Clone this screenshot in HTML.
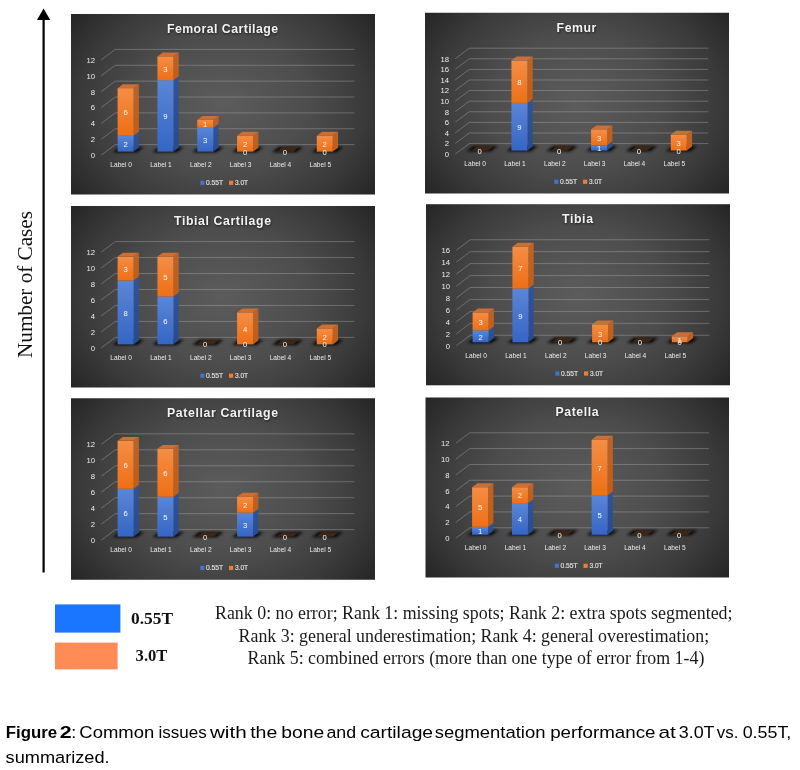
<!DOCTYPE html>
<html lang="en"><head><meta charset="utf-8"><title>Figure 2</title>
<style>
html,body{margin:0;padding:0;background:#fff;}
body{width:800px;height:770px;overflow:hidden;font-family:"Liberation Sans", sans-serif;}
svg{display:block;position:absolute;left:0;top:0;}
text{font-family:"Liberation Sans", sans-serif;}
.ax{font-size:7.7px;fill:#ececec;}
.dl{font-size:7.7px;fill:#fafafa;text-anchor:middle;}
.ttl{font-size:12.3px;font-weight:bold;fill:#f2f2f2;text-anchor:middle;}
.lg{font-size:7px;fill:#e0e0e0;stroke:#e0e0e0;stroke-width:0.15px;}
.serif{font-family:"Liberation Serif", serif;}
</style></head><body>
<svg width="800" height="770" viewBox="0 0 800 770" style="opacity:0.999">
<defs>
<linearGradient id="gT" x1="0" y1="0" x2="0" y2="1"><stop offset="0" stop-color="#262626"/><stop offset="1" stop-color="#595959"/></linearGradient>
<linearGradient id="gB" x1="0" y1="1" x2="0" y2="0"><stop offset="0" stop-color="#262626"/><stop offset="1" stop-color="#595959"/></linearGradient>
<linearGradient id="gL" x1="0" y1="0" x2="1" y2="0"><stop offset="0" stop-color="#262626"/><stop offset="1" stop-color="#595959"/></linearGradient>
<linearGradient id="gR" x1="1" y1="0" x2="0" y2="0"><stop offset="0" stop-color="#262626"/><stop offset="1" stop-color="#595959"/></linearGradient>
<radialGradient id="bg" cx="0.5" cy="0.5" r="1" gradientTransform="translate(0.5,0.5) scale(0.625,0.829) translate(-0.5,-0.5)"><stop offset="0" stop-color="#5c5c5c"/><stop offset="0.45" stop-color="#4d4d4d"/><stop offset="0.75" stop-color="#3a3a3a"/><stop offset="1" stop-color="#252525"/></radialGradient>
<linearGradient id="bf" x1="0" y1="0" x2="0" y2="1"><stop offset="0" stop-color="#5b86d6"/><stop offset="1" stop-color="#3566c6"/></linearGradient>
<linearGradient id="bs" x1="0" y1="0" x2="0" y2="1"><stop offset="0" stop-color="#30549a"/><stop offset="1" stop-color="#284b8e"/></linearGradient>
<linearGradient id="of" x1="0" y1="0" x2="0" y2="1"><stop offset="0" stop-color="#f58d45"/><stop offset="1" stop-color="#ee6f16"/></linearGradient>
<linearGradient id="os" x1="0" y1="0" x2="0" y2="1"><stop offset="0" stop-color="#b9632b"/><stop offset="1" stop-color="#c25d15"/></linearGradient>
<filter id="sh" x="-50%" y="-200%" width="200%" height="500%"><feGaussianBlur stdDeviation="1.5"/></filter>
<filter id="ts" x="-10%" y="-30%" width="120%" height="180%"><feGaussianBlur stdDeviation="0.9"/></filter>
</defs>
<rect x="0" y="0" width="800" height="770" fill="#ffffff"/>
<rect x="42.5" y="18" width="2.2" height="554.5" fill="#000"/>
<polygon points="43.6,8.6 50.2,19.9 37,19.9" fill="#000"/>
<text class="serif" transform="translate(32,284.5) rotate(-90)" text-anchor="middle" font-size="21.5" fill="#111" textLength="147" lengthAdjust="spacingAndGlyphs">Number of Cases</text>
<g>
<rect x="71" y="14" width="304" height="180.5" fill="url(#bg)"/>
<g fill="none" stroke="#b4b4b4" stroke-opacity="0.52" stroke-width="0.75">
<polyline points="101.25,155.11 115.3,144.64 354.4,144.64"/>
<polyline points="101.25,139.24 115.3,128.77 354.4,128.77"/>
<polyline points="101.25,123.36 115.3,112.89 354.4,112.89"/>
<polyline points="101.25,107.49 115.3,97.02 354.4,97.02"/>
<polyline points="101.25,91.62 115.3,81.15 354.4,81.15"/>
<polyline points="101.25,75.75 115.3,65.27 354.4,65.27"/>
<polyline points="101.25,59.87 115.3,49.4 354.4,49.4"/>
</g>
<text class="ax" x="95" y="158.01" text-anchor="end">0</text>
<text class="ax" x="95" y="142.14" text-anchor="end">2</text>
<text class="ax" x="95" y="126.26" text-anchor="end">4</text>
<text class="ax" x="95" y="110.39" text-anchor="end">6</text>
<text class="ax" x="95" y="94.52" text-anchor="end">8</text>
<text class="ax" x="95" y="78.65" text-anchor="end">10</text>
<text class="ax" x="95" y="62.77" text-anchor="end">12</text>
<g filter="url(#sh)" fill="#000" fill-opacity="0.95">
<polygon points="112.4,152.22 136.8,152.22 144.1,147.07 119.7,147.07"/>
<polygon points="152.23,152.22 176.63,152.22 183.93,147.07 159.53,147.07"/>
<polygon points="192.06,152.22 216.46,152.22 223.76,147.07 199.36,147.07"/>
<polygon points="231.89,152.22 256.29,152.22 263.59,147.07 239.19,147.07"/>
<polygon points="271.72,152.22 296.12,152.22 303.42,147.07 279.02,147.07"/>
<polygon points="311.55,152.22 335.95,152.22 343.25,147.07 318.85,147.07"/>
</g>
<polygon points="133.6,151.62 138.9,147.67 138.9,131.8 133.6,135.75" fill="url(#bs)"/>
<rect x="117.6" y="135.75" width="16" height="15.87" fill="url(#bf)"/>
<polygon points="133.6,135.75 138.9,131.8 138.9,84.18 133.6,88.13" fill="url(#os)"/>
<rect x="117.6" y="88.13" width="16" height="47.62" fill="url(#of)"/>
<polygon points="117.6,88.13 133.6,88.13 138.9,84.18 122.9,84.18" fill="#cb6f35"/>
<polygon points="173.43,151.62 178.73,147.67 178.73,76.24 173.43,80.19" fill="url(#bs)"/>
<rect x="157.43" y="80.19" width="16" height="71.43" fill="url(#bf)"/>
<polygon points="173.43,80.19 178.73,76.24 178.73,52.43 173.43,56.38" fill="url(#os)"/>
<rect x="157.43" y="56.38" width="16" height="23.81" fill="url(#of)"/>
<polygon points="157.43,56.38 173.43,56.38 178.73,52.43 162.73,52.43" fill="#cb6f35"/>
<polygon points="213.26,151.62 218.56,147.67 218.56,123.86 213.26,127.81" fill="url(#bs)"/>
<rect x="197.26" y="127.81" width="16" height="23.81" fill="url(#bf)"/>
<polygon points="213.26,127.81 218.56,123.86 218.56,115.92 213.26,119.87" fill="url(#os)"/>
<rect x="197.26" y="119.87" width="16" height="7.94" fill="url(#of)"/>
<polygon points="197.26,119.87 213.26,119.87 218.56,115.92 202.56,115.92" fill="#cb6f35"/>
<polygon points="253.09,151.62 258.39,147.67 258.39,131.8 253.09,135.75" fill="url(#os)"/>
<rect x="237.09" y="135.75" width="16" height="15.87" fill="url(#of)"/>
<polygon points="237.09,135.75 253.09,135.75 258.39,131.8 242.39,131.8" fill="#cb6f35"/>
<polygon points="276.62,151.82 293.22,151.82 298.82,147.12 282.22,147.12" fill="#3d2616"/>
<polygon points="332.75,151.62 338.05,147.67 338.05,131.8 332.75,135.75" fill="url(#os)"/>
<rect x="316.75" y="135.75" width="16" height="15.87" fill="url(#of)"/>
<polygon points="316.75,135.75 332.75,135.75 338.05,131.8 322.05,131.8" fill="#cb6f35"/>
<text class="dl" x="125.6" y="146.98">2</text>
<text class="dl" x="125.6" y="115.24">6</text>
<text class="dl" x="165.43" y="119.21">9</text>
<text class="dl" x="165.43" y="71.59">3</text>
<text class="dl" x="205.26" y="143.01">3</text>
<text class="dl" x="205.26" y="127.14">1</text>
<text class="dl" x="245.09" y="154.62">0</text>
<text class="dl" x="245.09" y="146.98">2</text>
<text class="dl" x="284.92" y="154.62">0</text>
<text class="dl" x="324.75" y="154.62">0</text>
<text class="dl" x="324.75" y="146.98">2</text>
<text class="ax" x="121.16" y="166.88" text-anchor="middle" textLength="21.6" lengthAdjust="spacingAndGlyphs">Label 0</text>
<text class="ax" x="161" y="166.88" text-anchor="middle" textLength="21.6" lengthAdjust="spacingAndGlyphs">Label 1</text>
<text class="ax" x="200.82" y="166.88" text-anchor="middle" textLength="21.6" lengthAdjust="spacingAndGlyphs">Label 2</text>
<text class="ax" x="240.66" y="166.88" text-anchor="middle" textLength="21.6" lengthAdjust="spacingAndGlyphs">Label 3</text>
<text class="ax" x="280.49" y="166.88" text-anchor="middle" textLength="21.6" lengthAdjust="spacingAndGlyphs">Label 4</text>
<text class="ax" x="320.31" y="166.88" text-anchor="middle" textLength="21.6" lengthAdjust="spacingAndGlyphs">Label 5</text>
<rect x="200.25" y="180.68" width="4.2" height="4.2" fill="#4472c4"/>
<text class="lg" x="205.9" y="184.78" textLength="17.2" lengthAdjust="spacingAndGlyphs">0.55T</text>
<rect x="229" y="180.68" width="4.2" height="4.2" fill="#ed7d31"/>
<text class="lg" x="235" y="184.78" textLength="13.1" lengthAdjust="spacingAndGlyphs">3.0T</text>
<text class="ttl" x="223.1" y="33.85" textLength="111" lengthAdjust="spacing" fill="#000" style="fill:#000" opacity="0.6" filter="url(#ts)">Femoral Cartilage</text>
<text class="ttl" x="222.5" y="32.95" textLength="111" lengthAdjust="spacing">Femoral Cartilage</text>
</g>
<g>
<rect x="425" y="12.75" width="304" height="180.75" fill="url(#bg)"/>
<g fill="none" stroke="#b4b4b4" stroke-opacity="0.52" stroke-width="0.75">
<polyline points="455.25,154.05 469.3,143.57 708.4,143.57"/>
<polyline points="455.25,143.46 469.3,132.97 708.4,132.97"/>
<polyline points="455.25,132.86 469.3,122.38 708.4,122.38"/>
<polyline points="455.25,122.27 469.3,111.78 708.4,111.78"/>
<polyline points="455.25,111.67 469.3,101.18 708.4,101.18"/>
<polyline points="455.25,101.07 469.3,90.59 708.4,90.59"/>
<polyline points="455.25,90.48 469.3,79.99 708.4,79.99"/>
<polyline points="455.25,79.88 469.3,69.39 708.4,69.39"/>
<polyline points="455.25,69.28 469.3,58.8 708.4,58.8"/>
<polyline points="455.25,58.69 469.3,48.2 708.4,48.2"/>
</g>
<text class="ax" x="449" y="156.95" text-anchor="end">0</text>
<text class="ax" x="449" y="146.36" text-anchor="end">2</text>
<text class="ax" x="449" y="135.76" text-anchor="end">4</text>
<text class="ax" x="449" y="125.17" text-anchor="end">6</text>
<text class="ax" x="449" y="114.57" text-anchor="end">8</text>
<text class="ax" x="449" y="103.97" text-anchor="end">10</text>
<text class="ax" x="449" y="93.38" text-anchor="end">12</text>
<text class="ax" x="449" y="82.78" text-anchor="end">14</text>
<text class="ax" x="449" y="72.18" text-anchor="end">16</text>
<text class="ax" x="449" y="61.59" text-anchor="end">18</text>
<g filter="url(#sh)" fill="#000" fill-opacity="0.95">
<polygon points="466.4,151.16 490.8,151.16 498.1,146.01 473.7,146.01"/>
<polygon points="506.23,151.16 530.63,151.16 537.93,146.01 513.53,146.01"/>
<polygon points="546.06,151.16 570.46,151.16 577.76,146.01 553.36,146.01"/>
<polygon points="585.89,151.16 610.29,151.16 617.59,146.01 593.19,146.01"/>
<polygon points="625.72,151.16 650.12,151.16 657.42,146.01 633.02,146.01"/>
<polygon points="665.55,151.16 689.95,151.16 697.25,146.01 672.85,146.01"/>
</g>
<polygon points="471.3,150.76 487.9,150.76 493.5,146.06 476.9,146.06" fill="#3d2616"/>
<polygon points="527.43,150.56 532.73,146.61 532.73,98.93 527.43,102.88" fill="url(#bs)"/>
<rect x="511.43" y="102.88" width="16" height="47.68" fill="url(#bf)"/>
<polygon points="527.43,102.88 532.73,98.93 532.73,56.54 527.43,60.49" fill="url(#os)"/>
<rect x="511.43" y="60.49" width="16" height="42.39" fill="url(#of)"/>
<polygon points="511.43,60.49 527.43,60.49 532.73,56.54 516.73,56.54" fill="#cb6f35"/>
<polygon points="550.96,150.76 567.56,150.76 573.16,146.06 556.56,146.06" fill="#3d2616"/>
<polygon points="607.09,150.56 612.39,146.61 612.39,141.31 607.09,145.26" fill="url(#bs)"/>
<rect x="591.09" y="145.26" width="16" height="5.3" fill="url(#bf)"/>
<polygon points="607.09,145.26 612.39,141.31 612.39,125.42 607.09,129.37" fill="url(#os)"/>
<rect x="591.09" y="129.37" width="16" height="15.89" fill="url(#of)"/>
<polygon points="591.09,129.37 607.09,129.37 612.39,125.42 596.39,125.42" fill="#cb6f35"/>
<polygon points="630.62,150.76 647.22,150.76 652.82,146.06 636.22,146.06" fill="#3d2616"/>
<polygon points="686.75,150.56 692.05,146.61 692.05,130.71 686.75,134.66" fill="url(#os)"/>
<rect x="670.75" y="134.66" width="16" height="15.89" fill="url(#of)"/>
<polygon points="670.75,134.66 686.75,134.66 692.05,130.71 676.05,130.71" fill="#cb6f35"/>
<text class="dl" x="479.6" y="153.56">0</text>
<text class="dl" x="519.43" y="130.02">9</text>
<text class="dl" x="519.43" y="84.98">8</text>
<text class="dl" x="559.26" y="153.56">0</text>
<text class="dl" x="599.09" y="151.21">1</text>
<text class="dl" x="599.09" y="140.61">3</text>
<text class="dl" x="638.92" y="153.56">0</text>
<text class="dl" x="678.75" y="153.56">0</text>
<text class="dl" x="678.75" y="145.91">3</text>
<text class="ax" x="475.17" y="165.84" text-anchor="middle" textLength="21.6" lengthAdjust="spacingAndGlyphs">Label 0</text>
<text class="ax" x="515" y="165.84" text-anchor="middle" textLength="21.6" lengthAdjust="spacingAndGlyphs">Label 1</text>
<text class="ax" x="554.83" y="165.84" text-anchor="middle" textLength="21.6" lengthAdjust="spacingAndGlyphs">Label 2</text>
<text class="ax" x="594.65" y="165.84" text-anchor="middle" textLength="21.6" lengthAdjust="spacingAndGlyphs">Label 3</text>
<text class="ax" x="634.49" y="165.84" text-anchor="middle" textLength="21.6" lengthAdjust="spacingAndGlyphs">Label 4</text>
<text class="ax" x="674.32" y="165.84" text-anchor="middle" textLength="21.6" lengthAdjust="spacingAndGlyphs">Label 5</text>
<rect x="554.25" y="179.66" width="4.2" height="4.2" fill="#4472c4"/>
<text class="lg" x="559.9" y="183.76" textLength="17.2" lengthAdjust="spacingAndGlyphs">0.55T</text>
<rect x="583" y="179.66" width="4.2" height="4.2" fill="#ed7d31"/>
<text class="lg" x="589" y="183.76" textLength="13.1" lengthAdjust="spacingAndGlyphs">3.0T</text>
<text class="ttl" x="577.1" y="32.62" textLength="39.8" lengthAdjust="spacing" fill="#000" style="fill:#000" opacity="0.6" filter="url(#ts)">Femur</text>
<text class="ttl" x="576.5" y="31.72" textLength="39.8" lengthAdjust="spacing">Femur</text>
</g>
<g>
<rect x="71" y="206" width="304" height="181.5" fill="url(#bg)"/>
<g fill="none" stroke="#b4b4b4" stroke-opacity="0.52" stroke-width="0.75">
<polyline points="101.25,347.89 115.3,337.36 354.4,337.36"/>
<polyline points="101.25,331.93 115.3,321.4 354.4,321.4"/>
<polyline points="101.25,315.97 115.3,305.44 354.4,305.44"/>
<polyline points="101.25,300.01 115.3,289.48 354.4,289.48"/>
<polyline points="101.25,284.05 115.3,273.52 354.4,273.52"/>
<polyline points="101.25,268.09 115.3,257.56 354.4,257.56"/>
<polyline points="101.25,252.13 115.3,241.6 354.4,241.6"/>
</g>
<text class="ax" x="95" y="350.79" text-anchor="end">0</text>
<text class="ax" x="95" y="334.83" text-anchor="end">2</text>
<text class="ax" x="95" y="318.87" text-anchor="end">4</text>
<text class="ax" x="95" y="302.91" text-anchor="end">6</text>
<text class="ax" x="95" y="286.95" text-anchor="end">8</text>
<text class="ax" x="95" y="270.99" text-anchor="end">10</text>
<text class="ax" x="95" y="255.03" text-anchor="end">12</text>
<g filter="url(#sh)" fill="#000" fill-opacity="0.95">
<polygon points="112.4,344.98 136.8,344.98 144.1,339.83 119.7,339.83"/>
<polygon points="152.23,344.98 176.63,344.98 183.93,339.83 159.53,339.83"/>
<polygon points="192.06,344.98 216.46,344.98 223.76,339.83 199.36,339.83"/>
<polygon points="231.89,344.98 256.29,344.98 263.59,339.83 239.19,339.83"/>
<polygon points="271.72,344.98 296.12,344.98 303.42,339.83 279.02,339.83"/>
<polygon points="311.55,344.98 335.95,344.98 343.25,339.83 318.85,339.83"/>
</g>
<polygon points="133.6,344.38 138.9,340.43 138.9,276.59 133.6,280.54" fill="url(#bs)"/>
<rect x="117.6" y="280.54" width="16" height="63.84" fill="url(#bf)"/>
<polygon points="133.6,280.54 138.9,276.59 138.9,252.65 133.6,256.6" fill="url(#os)"/>
<rect x="117.6" y="256.6" width="16" height="23.94" fill="url(#of)"/>
<polygon points="117.6,256.6 133.6,256.6 138.9,252.65 122.9,252.65" fill="#cb6f35"/>
<polygon points="173.43,344.38 178.73,340.43 178.73,292.55 173.43,296.5" fill="url(#bs)"/>
<rect x="157.43" y="296.5" width="16" height="47.88" fill="url(#bf)"/>
<polygon points="173.43,296.5 178.73,292.55 178.73,252.65 173.43,256.6" fill="url(#os)"/>
<rect x="157.43" y="256.6" width="16" height="39.9" fill="url(#of)"/>
<polygon points="157.43,256.6 173.43,256.6 178.73,252.65 162.73,252.65" fill="#cb6f35"/>
<polygon points="196.96,344.58 213.56,344.58 219.16,339.88 202.56,339.88" fill="#3d2616"/>
<polygon points="253.09,344.38 258.39,340.43 258.39,308.51 253.09,312.46" fill="url(#os)"/>
<rect x="237.09" y="312.46" width="16" height="31.92" fill="url(#of)"/>
<polygon points="237.09,312.46 253.09,312.46 258.39,308.51 242.39,308.51" fill="#cb6f35"/>
<polygon points="276.62,344.58 293.22,344.58 298.82,339.88 282.22,339.88" fill="#3d2616"/>
<polygon points="332.75,344.38 338.05,340.43 338.05,324.47 332.75,328.42" fill="url(#os)"/>
<rect x="316.75" y="328.42" width="16" height="15.96" fill="url(#of)"/>
<polygon points="316.75,328.42 332.75,328.42 338.05,324.47 322.05,324.47" fill="#cb6f35"/>
<text class="dl" x="125.6" y="315.76">8</text>
<text class="dl" x="125.6" y="271.87">3</text>
<text class="dl" x="165.43" y="323.74">6</text>
<text class="dl" x="165.43" y="279.85">5</text>
<text class="dl" x="205.26" y="347.38">0</text>
<text class="dl" x="245.09" y="347.38">0</text>
<text class="dl" x="245.09" y="331.72">4</text>
<text class="dl" x="284.92" y="347.38">0</text>
<text class="dl" x="324.75" y="347.38">0</text>
<text class="dl" x="324.75" y="339.7">2</text>
<text class="ax" x="121.16" y="359.72" text-anchor="middle" textLength="21.6" lengthAdjust="spacingAndGlyphs">Label 0</text>
<text class="ax" x="161" y="359.72" text-anchor="middle" textLength="21.6" lengthAdjust="spacingAndGlyphs">Label 1</text>
<text class="ax" x="200.82" y="359.72" text-anchor="middle" textLength="21.6" lengthAdjust="spacingAndGlyphs">Label 2</text>
<text class="ax" x="240.66" y="359.72" text-anchor="middle" textLength="21.6" lengthAdjust="spacingAndGlyphs">Label 3</text>
<text class="ax" x="280.49" y="359.72" text-anchor="middle" textLength="21.6" lengthAdjust="spacingAndGlyphs">Label 4</text>
<text class="ax" x="320.31" y="359.72" text-anchor="middle" textLength="21.6" lengthAdjust="spacingAndGlyphs">Label 5</text>
<rect x="200.25" y="373.62" width="4.2" height="4.2" fill="#4472c4"/>
<text class="lg" x="205.9" y="377.72" textLength="17.2" lengthAdjust="spacingAndGlyphs">0.55T</text>
<rect x="229" y="373.62" width="4.2" height="4.2" fill="#ed7d31"/>
<text class="lg" x="235" y="377.72" textLength="13.1" lengthAdjust="spacingAndGlyphs">3.0T</text>
<text class="ttl" x="223.1" y="225.95" textLength="97" lengthAdjust="spacing" fill="#000" style="fill:#000" opacity="0.6" filter="url(#ts)">Tibial Cartilage</text>
<text class="ttl" x="222.5" y="225.05" textLength="97" lengthAdjust="spacing">Tibial Cartilage</text>
</g>
<g>
<rect x="426" y="204.2" width="304" height="181.1" fill="url(#bg)"/>
<g fill="none" stroke="#b4b4b4" stroke-opacity="0.52" stroke-width="0.75">
<polyline points="456.25,345.78 470.3,335.27 709.4,335.27"/>
<polyline points="456.25,333.83 470.3,323.33 709.4,323.33"/>
<polyline points="456.25,321.89 470.3,311.38 709.4,311.38"/>
<polyline points="456.25,309.95 470.3,299.44 709.4,299.44"/>
<polyline points="456.25,298 470.3,287.5 709.4,287.5"/>
<polyline points="456.25,286.06 470.3,275.55 709.4,275.55"/>
<polyline points="456.25,274.11 470.3,263.61 709.4,263.61"/>
<polyline points="456.25,262.17 470.3,251.66 709.4,251.66"/>
<polyline points="456.25,250.23 470.3,239.72 709.4,239.72"/>
</g>
<text class="ax" x="450" y="348.68" text-anchor="end">0</text>
<text class="ax" x="450" y="336.73" text-anchor="end">2</text>
<text class="ax" x="450" y="324.79" text-anchor="end">4</text>
<text class="ax" x="450" y="312.85" text-anchor="end">6</text>
<text class="ax" x="450" y="300.9" text-anchor="end">8</text>
<text class="ax" x="450" y="288.96" text-anchor="end">10</text>
<text class="ax" x="450" y="277.01" text-anchor="end">12</text>
<text class="ax" x="450" y="265.07" text-anchor="end">14</text>
<text class="ax" x="450" y="253.13" text-anchor="end">16</text>
<g filter="url(#sh)" fill="#000" fill-opacity="0.95">
<polygon points="467.4,342.88 491.8,342.88 499.1,337.73 474.7,337.73"/>
<polygon points="507.23,342.88 531.63,342.88 538.93,337.73 514.53,337.73"/>
<polygon points="547.06,342.88 571.46,342.88 578.76,337.73 554.36,337.73"/>
<polygon points="586.89,342.88 611.29,342.88 618.59,337.73 594.19,337.73"/>
<polygon points="626.72,342.88 651.12,342.88 658.42,337.73 634.02,337.73"/>
<polygon points="666.55,342.88 690.95,342.88 698.25,337.73 673.85,337.73"/>
</g>
<polygon points="488.6,342.28 493.9,338.33 493.9,326.38 488.6,330.33" fill="url(#bs)"/>
<rect x="472.6" y="330.33" width="16" height="11.94" fill="url(#bf)"/>
<polygon points="488.6,330.33 493.9,326.38 493.9,308.47 488.6,312.42" fill="url(#os)"/>
<rect x="472.6" y="312.42" width="16" height="17.92" fill="url(#of)"/>
<polygon points="472.6,312.42 488.6,312.42 493.9,308.47 477.9,308.47" fill="#cb6f35"/>
<polygon points="528.43,342.28 533.73,338.33 533.73,284.58 528.43,288.53" fill="url(#bs)"/>
<rect x="512.43" y="288.53" width="16" height="53.75" fill="url(#bf)"/>
<polygon points="528.43,288.53 533.73,284.58 533.73,242.77 528.43,246.72" fill="url(#os)"/>
<rect x="512.43" y="246.72" width="16" height="41.8" fill="url(#of)"/>
<polygon points="512.43,246.72 528.43,246.72 533.73,242.77 517.73,242.77" fill="#cb6f35"/>
<polygon points="551.96,342.48 568.56,342.48 574.16,337.78 557.56,337.78" fill="#3d2616"/>
<polygon points="608.09,342.28 613.39,338.33 613.39,320.41 608.09,324.36" fill="url(#os)"/>
<rect x="592.09" y="324.36" width="16" height="17.92" fill="url(#of)"/>
<polygon points="592.09,324.36 608.09,324.36 613.39,320.41 597.39,320.41" fill="#cb6f35"/>
<polygon points="631.62,342.48 648.22,342.48 653.82,337.78 637.22,337.78" fill="#3d2616"/>
<polygon points="687.75,342.28 693.05,338.33 693.05,332.35 687.75,336.3" fill="url(#os)"/>
<rect x="671.75" y="336.3" width="16" height="5.97" fill="url(#of)"/>
<polygon points="671.75,336.3 687.75,336.3 693.05,332.35 677.05,332.35" fill="#cb6f35"/>
<text class="dl" x="480.6" y="339.6">2</text>
<text class="dl" x="480.6" y="324.67">3</text>
<text class="dl" x="520.43" y="318.7">9</text>
<text class="dl" x="520.43" y="270.93">7</text>
<text class="dl" x="560.26" y="345.28">0</text>
<text class="dl" x="600.09" y="345.28">0</text>
<text class="dl" x="600.09" y="336.62">3</text>
<text class="dl" x="639.92" y="345.28">0</text>
<text class="dl" x="679.75" y="345.28">0</text>
<text class="dl" x="679.75" y="342.59">1</text>
<text class="ax" x="476.17" y="357.58" text-anchor="middle" textLength="21.6" lengthAdjust="spacingAndGlyphs">Label 0</text>
<text class="ax" x="516" y="357.58" text-anchor="middle" textLength="21.6" lengthAdjust="spacingAndGlyphs">Label 1</text>
<text class="ax" x="555.83" y="357.58" text-anchor="middle" textLength="21.6" lengthAdjust="spacingAndGlyphs">Label 2</text>
<text class="ax" x="595.65" y="357.58" text-anchor="middle" textLength="21.6" lengthAdjust="spacingAndGlyphs">Label 3</text>
<text class="ax" x="635.49" y="357.58" text-anchor="middle" textLength="21.6" lengthAdjust="spacingAndGlyphs">Label 4</text>
<text class="ax" x="675.32" y="357.58" text-anchor="middle" textLength="21.6" lengthAdjust="spacingAndGlyphs">Label 5</text>
<rect x="555.25" y="371.44" width="4.2" height="4.2" fill="#4472c4"/>
<text class="lg" x="560.9" y="375.54" textLength="17.2" lengthAdjust="spacingAndGlyphs">0.55T</text>
<rect x="584" y="371.44" width="4.2" height="4.2" fill="#ed7d31"/>
<text class="lg" x="590" y="375.54" textLength="13.1" lengthAdjust="spacingAndGlyphs">3.0T</text>
<text class="ttl" x="578.1" y="224.11" textLength="31" lengthAdjust="spacing" fill="#000" style="fill:#000" opacity="0.6" filter="url(#ts)">Tibia</text>
<text class="ttl" x="577.5" y="223.21" textLength="31" lengthAdjust="spacing">Tibia</text>
</g>
<g>
<rect x="71" y="398.25" width="304" height="181.5" fill="url(#bg)"/>
<g fill="none" stroke="#b4b4b4" stroke-opacity="0.52" stroke-width="0.75">
<polyline points="101.25,540.14 115.3,529.61 354.4,529.61"/>
<polyline points="101.25,524.18 115.3,513.65 354.4,513.65"/>
<polyline points="101.25,508.22 115.3,497.69 354.4,497.69"/>
<polyline points="101.25,492.26 115.3,481.73 354.4,481.73"/>
<polyline points="101.25,476.3 115.3,465.77 354.4,465.77"/>
<polyline points="101.25,460.34 115.3,449.81 354.4,449.81"/>
<polyline points="101.25,444.38 115.3,433.85 354.4,433.85"/>
</g>
<text class="ax" x="95" y="543.04" text-anchor="end">0</text>
<text class="ax" x="95" y="527.08" text-anchor="end">2</text>
<text class="ax" x="95" y="511.12" text-anchor="end">4</text>
<text class="ax" x="95" y="495.16" text-anchor="end">6</text>
<text class="ax" x="95" y="479.2" text-anchor="end">8</text>
<text class="ax" x="95" y="463.24" text-anchor="end">10</text>
<text class="ax" x="95" y="447.28" text-anchor="end">12</text>
<g filter="url(#sh)" fill="#000" fill-opacity="0.95">
<polygon points="112.4,537.23 136.8,537.23 144.1,532.08 119.7,532.08"/>
<polygon points="152.23,537.23 176.63,537.23 183.93,532.08 159.53,532.08"/>
<polygon points="192.06,537.23 216.46,537.23 223.76,532.08 199.36,532.08"/>
<polygon points="231.89,537.23 256.29,537.23 263.59,532.08 239.19,532.08"/>
<polygon points="271.72,537.23 296.12,537.23 303.42,532.08 279.02,532.08"/>
<polygon points="311.55,537.23 335.95,537.23 343.25,532.08 318.85,532.08"/>
</g>
<polygon points="133.6,536.63 138.9,532.68 138.9,484.8 133.6,488.75" fill="url(#bs)"/>
<rect x="117.6" y="488.75" width="16" height="47.88" fill="url(#bf)"/>
<polygon points="133.6,488.75 138.9,484.8 138.9,436.92 133.6,440.87" fill="url(#os)"/>
<rect x="117.6" y="440.87" width="16" height="47.88" fill="url(#of)"/>
<polygon points="117.6,440.87 133.6,440.87 138.9,436.92 122.9,436.92" fill="#cb6f35"/>
<polygon points="173.43,536.63 178.73,532.68 178.73,492.78 173.43,496.73" fill="url(#bs)"/>
<rect x="157.43" y="496.73" width="16" height="39.9" fill="url(#bf)"/>
<polygon points="173.43,496.73 178.73,492.78 178.73,444.9 173.43,448.85" fill="url(#os)"/>
<rect x="157.43" y="448.85" width="16" height="47.88" fill="url(#of)"/>
<polygon points="157.43,448.85 173.43,448.85 178.73,444.9 162.73,444.9" fill="#cb6f35"/>
<polygon points="196.96,536.83 213.56,536.83 219.16,532.13 202.56,532.13" fill="#3d2616"/>
<polygon points="253.09,536.63 258.39,532.68 258.39,508.74 253.09,512.69" fill="url(#bs)"/>
<rect x="237.09" y="512.69" width="16" height="23.94" fill="url(#bf)"/>
<polygon points="253.09,512.69 258.39,508.74 258.39,492.78 253.09,496.73" fill="url(#os)"/>
<rect x="237.09" y="496.73" width="16" height="15.96" fill="url(#of)"/>
<polygon points="237.09,496.73 253.09,496.73 258.39,492.78 242.39,492.78" fill="#cb6f35"/>
<polygon points="276.62,536.83 293.22,536.83 298.82,532.13 282.22,532.13" fill="#3d2616"/>
<polygon points="316.45,536.83 333.05,536.83 338.65,532.13 322.05,532.13" fill="#3d2616"/>
<text class="dl" x="125.6" y="515.99">6</text>
<text class="dl" x="125.6" y="468.11">6</text>
<text class="dl" x="165.43" y="519.98">5</text>
<text class="dl" x="165.43" y="476.09">6</text>
<text class="dl" x="205.26" y="539.63">0</text>
<text class="dl" x="245.09" y="527.96">3</text>
<text class="dl" x="245.09" y="508.01">2</text>
<text class="dl" x="284.92" y="539.63">0</text>
<text class="dl" x="324.75" y="539.63">0</text>
<text class="ax" x="121.16" y="551.97" text-anchor="middle" textLength="21.6" lengthAdjust="spacingAndGlyphs">Label 0</text>
<text class="ax" x="161" y="551.97" text-anchor="middle" textLength="21.6" lengthAdjust="spacingAndGlyphs">Label 1</text>
<text class="ax" x="200.82" y="551.97" text-anchor="middle" textLength="21.6" lengthAdjust="spacingAndGlyphs">Label 2</text>
<text class="ax" x="240.66" y="551.97" text-anchor="middle" textLength="21.6" lengthAdjust="spacingAndGlyphs">Label 3</text>
<text class="ax" x="280.49" y="551.97" text-anchor="middle" textLength="21.6" lengthAdjust="spacingAndGlyphs">Label 4</text>
<text class="ax" x="320.31" y="551.97" text-anchor="middle" textLength="21.6" lengthAdjust="spacingAndGlyphs">Label 5</text>
<rect x="200.25" y="565.87" width="4.2" height="4.2" fill="#4472c4"/>
<text class="lg" x="205.9" y="569.97" textLength="17.2" lengthAdjust="spacingAndGlyphs">0.55T</text>
<rect x="229" y="565.87" width="4.2" height="4.2" fill="#ed7d31"/>
<text class="lg" x="235" y="569.97" textLength="13.1" lengthAdjust="spacingAndGlyphs">3.0T</text>
<text class="ttl" x="223.1" y="418.2" textLength="111" lengthAdjust="spacing" fill="#000" style="fill:#000" opacity="0.6" filter="url(#ts)">Patellar Cartilage</text>
<text class="ttl" x="222.5" y="417.3" textLength="111" lengthAdjust="spacing">Patellar Cartilage</text>
</g>
<g>
<rect x="425.5" y="397.5" width="303.5" height="180" fill="url(#bg)"/>
<g fill="none" stroke="#b4b4b4" stroke-opacity="0.52" stroke-width="0.75">
<polyline points="455.75,538.22 469.8,527.78 708.9,527.78"/>
<polyline points="455.75,522.39 469.8,511.95 708.9,511.95"/>
<polyline points="455.75,506.56 469.8,496.12 708.9,496.12"/>
<polyline points="455.75,490.73 469.8,480.29 708.9,480.29"/>
<polyline points="455.75,474.9 469.8,464.46 708.9,464.46"/>
<polyline points="455.75,459.07 469.8,448.63 708.9,448.63"/>
<polyline points="455.75,443.25 469.8,432.8 708.9,432.8"/>
</g>
<text class="ax" x="449.5" y="541.12" text-anchor="end">0</text>
<text class="ax" x="449.5" y="525.29" text-anchor="end">2</text>
<text class="ax" x="449.5" y="509.46" text-anchor="end">4</text>
<text class="ax" x="449.5" y="493.63" text-anchor="end">6</text>
<text class="ax" x="449.5" y="477.8" text-anchor="end">8</text>
<text class="ax" x="449.5" y="461.97" text-anchor="end">10</text>
<text class="ax" x="449.5" y="446.15" text-anchor="end">12</text>
<g filter="url(#sh)" fill="#000" fill-opacity="0.95">
<polygon points="466.9,535.34 491.3,535.34 498.6,530.19 474.2,530.19"/>
<polygon points="506.73,535.34 531.13,535.34 538.43,530.19 514.03,530.19"/>
<polygon points="546.56,535.34 570.96,535.34 578.26,530.19 553.86,530.19"/>
<polygon points="586.39,535.34 610.79,535.34 618.09,530.19 593.69,530.19"/>
<polygon points="626.22,535.34 650.62,535.34 657.92,530.19 633.52,530.19"/>
<polygon points="666.05,535.34 690.45,535.34 697.75,530.19 673.35,530.19"/>
</g>
<polygon points="488.1,534.74 493.4,530.79 493.4,522.87 488.1,526.82" fill="url(#bs)"/>
<rect x="472.1" y="526.82" width="16" height="7.91" fill="url(#bf)"/>
<polygon points="488.1,526.82 493.4,522.87 493.4,483.3 488.1,487.25" fill="url(#os)"/>
<rect x="472.1" y="487.25" width="16" height="39.57" fill="url(#of)"/>
<polygon points="472.1,487.25 488.1,487.25 493.4,483.3 477.4,483.3" fill="#cb6f35"/>
<polygon points="527.93,534.74 533.23,530.79 533.23,499.13 527.93,503.08" fill="url(#bs)"/>
<rect x="511.93" y="503.08" width="16" height="31.66" fill="url(#bf)"/>
<polygon points="527.93,503.08 533.23,499.13 533.23,483.3 527.93,487.25" fill="url(#os)"/>
<rect x="511.93" y="487.25" width="16" height="15.83" fill="url(#of)"/>
<polygon points="511.93,487.25 527.93,487.25 533.23,483.3 517.23,483.3" fill="#cb6f35"/>
<polygon points="551.46,534.94 568.06,534.94 573.66,530.24 557.06,530.24" fill="#3d2616"/>
<polygon points="607.59,534.74 612.89,530.79 612.89,491.22 607.59,495.17" fill="url(#bs)"/>
<rect x="591.59" y="495.17" width="16" height="39.57" fill="url(#bf)"/>
<polygon points="607.59,495.17 612.89,491.22 612.89,435.82 607.59,439.77" fill="url(#os)"/>
<rect x="591.59" y="439.77" width="16" height="55.4" fill="url(#of)"/>
<polygon points="591.59,439.77 607.59,439.77 612.89,435.82 596.89,435.82" fill="#cb6f35"/>
<polygon points="631.12,534.94 647.72,534.94 653.32,530.24 636.72,530.24" fill="#3d2616"/>
<polygon points="670.95,534.94 687.55,534.94 693.15,530.24 676.55,530.24" fill="#3d2616"/>
<text class="dl" x="480.1" y="534.08">1</text>
<text class="dl" x="480.1" y="510.34">5</text>
<text class="dl" x="519.93" y="522.21">4</text>
<text class="dl" x="519.93" y="498.47">2</text>
<text class="dl" x="559.76" y="537.74">0</text>
<text class="dl" x="599.59" y="518.25">5</text>
<text class="dl" x="599.59" y="470.77">7</text>
<text class="dl" x="639.42" y="537.74">0</text>
<text class="dl" x="679.25" y="537.74">0</text>
<text class="ax" x="475.67" y="549.95" text-anchor="middle" textLength="21.6" lengthAdjust="spacingAndGlyphs">Label 0</text>
<text class="ax" x="515.5" y="549.95" text-anchor="middle" textLength="21.6" lengthAdjust="spacingAndGlyphs">Label 1</text>
<text class="ax" x="555.33" y="549.95" text-anchor="middle" textLength="21.6" lengthAdjust="spacingAndGlyphs">Label 2</text>
<text class="ax" x="595.15" y="549.95" text-anchor="middle" textLength="21.6" lengthAdjust="spacingAndGlyphs">Label 3</text>
<text class="ax" x="634.99" y="549.95" text-anchor="middle" textLength="21.6" lengthAdjust="spacingAndGlyphs">Label 4</text>
<text class="ax" x="674.82" y="549.95" text-anchor="middle" textLength="21.6" lengthAdjust="spacingAndGlyphs">Label 5</text>
<rect x="554.75" y="563.7" width="4.2" height="4.2" fill="#4472c4"/>
<text class="lg" x="560.4" y="567.8" textLength="17.2" lengthAdjust="spacingAndGlyphs">0.55T</text>
<rect x="583.5" y="563.7" width="4.2" height="4.2" fill="#ed7d31"/>
<text class="lg" x="589.5" y="567.8" textLength="13.1" lengthAdjust="spacingAndGlyphs">3.0T</text>
<text class="ttl" x="577.6" y="417.3" textLength="43" lengthAdjust="spacing" fill="#000" style="fill:#000" opacity="0.6" filter="url(#ts)">Patella</text>
<text class="ttl" x="577" y="416.4" textLength="43" lengthAdjust="spacing">Patella</text>
</g>
<rect x="55" y="604.4" width="65.4" height="28.2" fill="#1b76ff"/>
<rect x="55" y="642.6" width="62.6" height="26.8" fill="#ff8b57"/>
<text class="serif" x="131" y="623.6" font-size="17.5" font-weight="bold" fill="#111" textLength="42" lengthAdjust="spacingAndGlyphs">0.55T</text>
<text class="serif" x="135.6" y="661" font-size="17.5" font-weight="bold" fill="#111" textLength="31.8" lengthAdjust="spacingAndGlyphs">3.0T</text>
<text class="serif" x="215" y="619.25" font-size="17.9" fill="#1a1a1a" textLength="517.5" lengthAdjust="spacingAndGlyphs">Rank 0: no error; Rank 1: missing spots; Rank 2: extra spots segmented;</text>
<text class="serif" x="238.6" y="641.75" font-size="17.9" fill="#1a1a1a" textLength="470.6" lengthAdjust="spacingAndGlyphs">Rank 3: general underestimation; Rank 4: general overestimation;</text>
<text class="serif" x="247.6" y="663.9" font-size="17.9" fill="#1a1a1a" textLength="456.8" lengthAdjust="spacingAndGlyphs">Rank 5: combined errors (more than one type of error from 1-4)</text>
<text x="5.7" y="738.4" font-size="17.2" font-weight="bold" fill="#000" textLength="51.4" lengthAdjust="spacingAndGlyphs">Figure</text>
<text x="59.7" y="738.4" font-size="17.2" font-weight="bold" fill="#000" textLength="11.9" lengthAdjust="spacingAndGlyphs">2</text>
<text x="71.2" y="738.4" font-size="17.2" fill="#000" textLength="4.9" lengthAdjust="spacingAndGlyphs">:</text>
<text x="79.3" y="738.4" font-size="17.2" fill="#000" textLength="74.9" lengthAdjust="spacingAndGlyphs">Common</text>
<text x="158.45" y="738.4" font-size="17.2" fill="#000" textLength="48.25" lengthAdjust="spacingAndGlyphs">issues</text>
<text x="209.95" y="738.4" font-size="17.2" fill="#000" textLength="36.75" lengthAdjust="spacingAndGlyphs">with</text>
<text x="250.2" y="738.4" font-size="17.2" fill="#000" textLength="27.15" lengthAdjust="spacingAndGlyphs">the</text>
<text x="281.2" y="738.4" font-size="17.2" fill="#000" textLength="43" lengthAdjust="spacingAndGlyphs">bone</text>
<text x="326.45" y="738.4" font-size="17.2" fill="#000" textLength="29.65" lengthAdjust="spacingAndGlyphs">and</text>
<text x="360.2" y="738.4" font-size="17.2" fill="#000" textLength="72.9" lengthAdjust="spacingAndGlyphs">cartilage</text>
<text x="434.7" y="738.4" font-size="17.2" fill="#000" textLength="110.8" lengthAdjust="spacingAndGlyphs">segmentation</text>
<text x="550.2" y="738.4" font-size="17.2" fill="#000" textLength="105.3" lengthAdjust="spacingAndGlyphs">performance</text>
<text x="658.45" y="738.4" font-size="17.2" fill="#000" textLength="17.4" lengthAdjust="spacingAndGlyphs">at</text>
<text x="678.7" y="738.4" font-size="17.2" fill="#000" textLength="35.9" lengthAdjust="spacingAndGlyphs">3.0T</text>
<text x="716.8" y="738.4" font-size="17.2" fill="#000" textLength="21.55" lengthAdjust="spacingAndGlyphs">vs.</text>
<text x="742.7" y="738.4" font-size="17.2" fill="#000" textLength="48.65" lengthAdjust="spacingAndGlyphs">0.55T,</text>
<text x="5.6" y="763" font-size="17.2" fill="#000" textLength="104" lengthAdjust="spacingAndGlyphs">summarized.</text>
</svg>
</body></html>
